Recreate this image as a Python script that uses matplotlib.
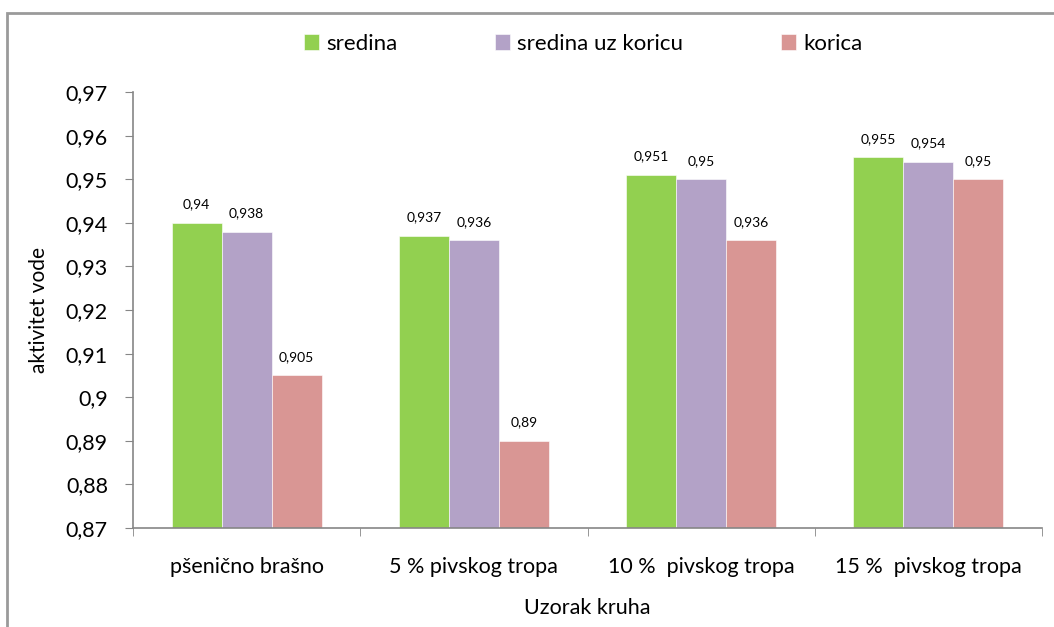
import matplotlib.pyplot as plt
import numpy as np
from matplotlib.patches import Rectangle
from matplotlib.ticker import FuncFormatter, FixedLocator

plt.rcParams['font.family'] = ['Lato', 'DejaVu Sans']

kategorije = ["pšenično brašno", "5 % pivskog tropa", "10 %  pivskog tropa", "15 %  pivskog tropa"]
serije = ["sredina", "sredina uz koricu", "korica"]
sredina = [0.94, 0.937, 0.951, 0.955]
sredina_uz_koricu = [0.938, 0.936, 0.95, 0.954]
korica = [0.905, 0.89, 0.936, 0.95]
boje = ["#92D050", "#B3A2C7", "#D99694"]

fig = plt.figure(figsize=(10.54, 6.27), dpi=100)
ax = fig.add_axes([133 / 1054, 1 - 528 / 627, (1042 - 133) / 1054, (528 - 92) / 627])

# okvir oko cijelog grafikona
fig.patches.append(Rectangle((7 / 1054, -0.1), 1.2, 1 - 13 / 627 + 0.1, transform=fig.transFigure,
                             fill=False, edgecolor="#9a9a9a", linewidth=2))

x = np.arange(len(kategorije))
w = 0.22
for i, (vals, name) in enumerate(zip([sredina, sredina_uz_koricu, korica], serije)):
    pos = x + (i - 1) * w
    ax.bar(pos, vals, w, color=boje[i], label=name, edgecolor="white", linewidth=0.4)
    for p, v in zip(pos, vals):
        ax.annotate(f"{v:g}".replace(".", ","), (p, v), xytext=(0, 9), textcoords="offset points",
                    ha="center", va="bottom", fontsize=10)

ax.set_ylim(0.87, 0.97)
ax.set_yticks(np.arange(0.87, 0.9701, 0.01))
ax.yaxis.set_major_formatter(FuncFormatter(lambda v, _: f"{v:.2f}".rstrip("0").replace(".", ",")))
ax.set_xlim(-0.5, 3.5)
ax.set_xticks(x)
ax.set_xticklabels(kategorije)
ax.xaxis.set_minor_locator(FixedLocator(np.arange(-0.5, 3.6, 1)))
ax.tick_params(axis="x", which="major", length=0, pad=21, labelsize=15.5)
ax.tick_params(axis="x", which="minor", length=6, color="#868686", direction="out")
ax.tick_params(axis="y", length=6, color="#868686", labelsize=15.5, pad=12)

for s in ["top", "right"]:
    ax.spines[s].set_visible(False)
for s in ["left", "bottom"]:
    ax.spines[s].set_color("#868686")
    ax.spines[s].set_linewidth(1.2)

ax.set_xlabel("Uzorak kruha", fontsize=15.5, labelpad=15)
ax.set_ylabel("aktivitet vode", fontsize=15, labelpad=12)

fig.legend(loc="center", bbox_to_anchor=(583 / 1054, 1 - 44 / 627), ncol=3, frameon=False,
           fontsize=16, handlelength=0.7, handleheight=0.7, handletextpad=0.3, columnspacing=4.4)

fig.savefig("out.png", dpi=100)
